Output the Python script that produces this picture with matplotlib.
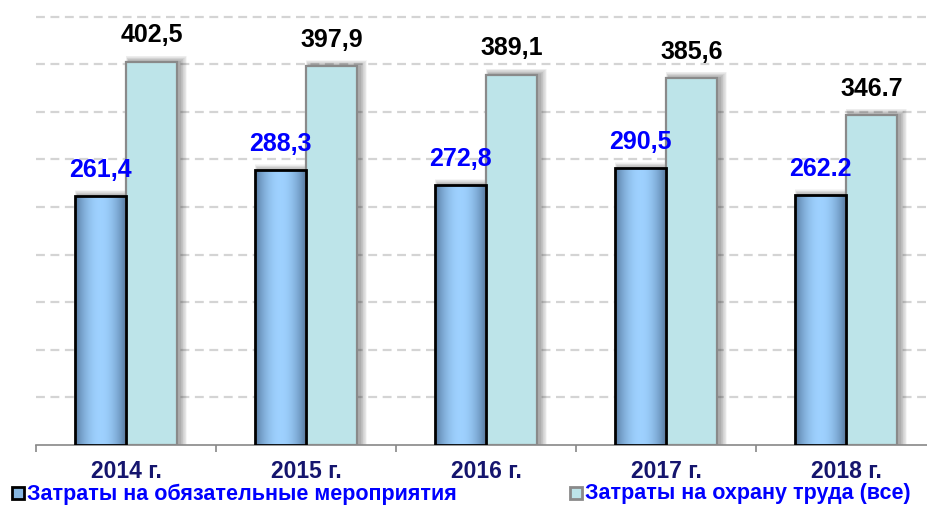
import numpy as np
import matplotlib

matplotlib.use("Agg")
import matplotlib.pyplot as plt
from matplotlib.patches import Rectangle

plt.rcParams["font.family"] = ["Liberation Sans", "DejaVu Sans"]

years = ["2014 г.", "2015 г.", "2016 г.", "2017 г.", "2018 г."]
mandatory = [261.4, 288.3, 272.8, 290.5, 262.2]
total = [402.5, 397.9, 389.1, 385.6, 346.7]
mandatory_labels = ["261,4", "288,3", "272,8", "290,5", "262.2"]
total_labels = ["402,5", "397,9", "389,1", "385,6", "346.7"]
series_names = ["Затраты на обязательные мероприятия", "Затраты на охрану труда (все)"]

NAVY = "#15156e"
LIGHT = "#bde4e9"
W = 0.283

fig = plt.figure(figsize=(9.28, 5.06), dpi=100)
ax = fig.add_axes([36 / 928, 60 / 506, 900 / 928, 438 / 506])
ax.set_xlim(-0.5, 4.5)
ax.set_ylim(0, 460)

# pixel -> data helpers for soft shadows
px_x = 1 / 180
px_y = 460 / 438

for y in range(50, 451, 50):
    ax.axhline(y, color="#d4d4d4", lw=1.6, ls=(0, (4, 2.5)), zorder=0)

x = np.arange(len(years))

# gradient for the dark bars
cols = np.linspace(0, np.pi, 64)
prof = np.sin(cols) ** 0.8
dark = np.array([0.33, 0.47, 0.62])
lite = np.array([0.62, 0.82, 1.0])
grad = (dark[None, :] + (lite - dark)[None, :] * prof[:, None])[None, :, :]


def shadow(x0, h, w):
    for k in range(10, 0, -1):
        r = Rectangle((x0 + 3 * px_x - k * px_x * 0.3, 0), w + k * px_x, h + k * px_y * 0.6,
                      facecolor="black", edgecolor="none", alpha=0.035, zorder=1)
        ax.add_patch(r)


for i in x:
    shadow(i, total[i], W)
    shadow(i - W, mandatory[i], W)

bars1 = ax.bar(x - W / 2, mandatory, W, facecolor="none", edgecolor="black", lw=2, zorder=4)
for b in bars1:
    im = ax.imshow(grad, extent=[b.get_x(), b.get_x() + b.get_width(), 0, b.get_height()],
                   aspect="auto", zorder=3, interpolation="bicubic")
    im.set_clip_path(b)
bars2 = ax.bar(x + W / 2, total, W, color=LIGHT, edgecolor="#8a8a8a", lw=1.6, zorder=3)

for i in x:
    ax.annotate(mandatory_labels[i], (i - W / 2, mandatory[i]), xytext=(0, 11),
                textcoords="offset points", ha="center", va="bottom",
                fontsize=18, fontweight="bold", color="#0000ff", zorder=6)
    ax.annotate(total_labels[i], (i + W / 2, total[i]), xytext=(0, 11),
                textcoords="offset points", ha="center", va="bottom",
                fontsize=18, fontweight="bold", color="black", zorder=6)

for s in ["top", "right", "left"]:
    ax.spines[s].set_visible(False)
ax.spines["bottom"].set_color("#888888")
ax.spines["bottom"].set_linewidth(1.2)
ax.set_yticks([])
ax.set_xticks(np.arange(-0.5, 4.6, 1.0), minor=False)
ax.set_xticklabels([])
ax.tick_params(axis="x", which="major", length=5, width=1.2, color="#888888")
ax.set_xticks(x, minor=True)
ax.set_xticklabels(years, minor=True, fontsize=16.5, fontweight="bold", color=NAVY)
ax.tick_params(axis="x", which="minor", length=0, pad=10)

# legend drawn by hand to match the wide spacing
fig.patches.append(Rectangle((12 / 928, 6 / 506), 12 / 928, 12 / 506, transform=fig.transFigure,
                             facecolor="#86b6e0", edgecolor="black", lw=2))
fig.text(27 / 928, 12 / 506, series_names[0], fontsize=15.5, fontweight="bold",
         color="#0000ff", va="center")
fig.patches.append(Rectangle((570 / 928, 6 / 506), 12 / 928, 12 / 506, transform=fig.transFigure,
                             facecolor=LIGHT, edgecolor="#8a8a8a", lw=2))
fig.text(585 / 928, 12 / 506, series_names[1], fontsize=15.5, fontweight="bold",
         color="#0000ff", va="center")

fig.savefig("out.png", dpi=100)
